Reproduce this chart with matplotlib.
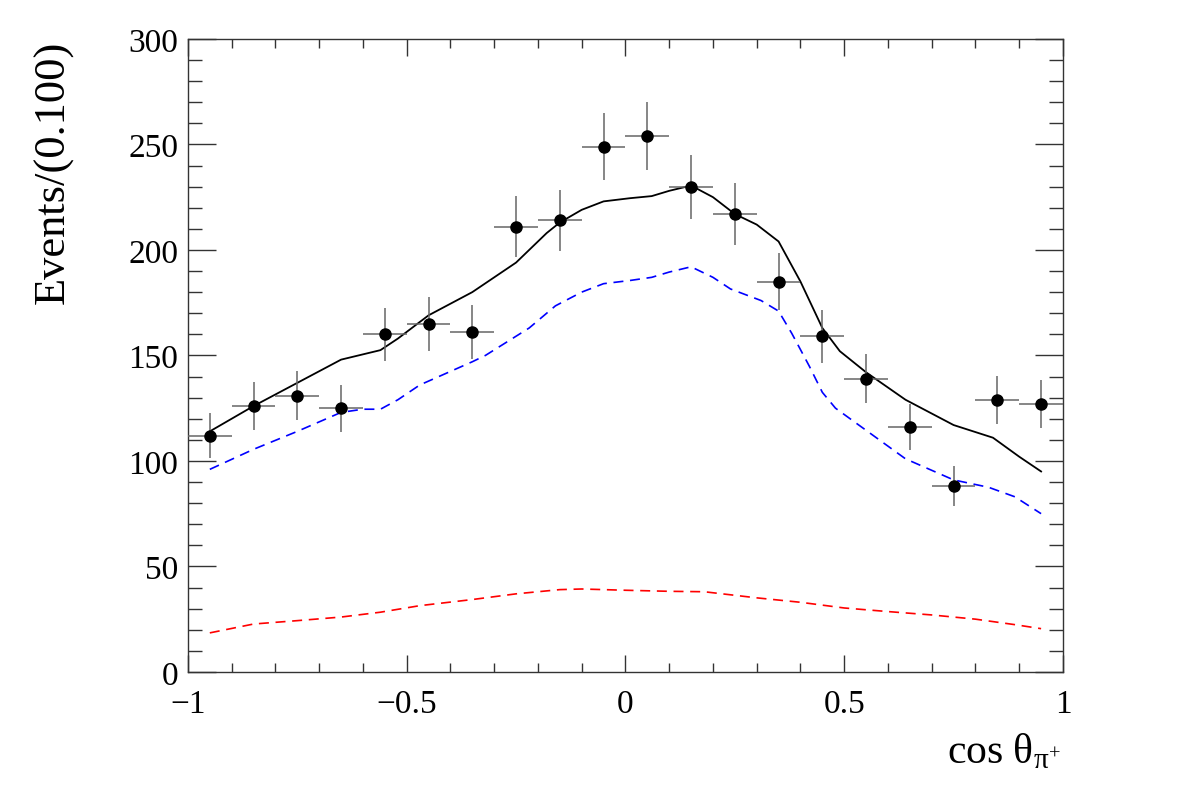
import numpy as np
import matplotlib
matplotlib.use("Agg")
import matplotlib.pyplot as plt
from matplotlib.ticker import MultipleLocator

plt.rcParams['font.family'] = ['Liberation Serif', 'DejaVu Serif']
plt.rcParams['mathtext.fontset'] = 'custom'
plt.rcParams['mathtext.rm'] = 'Liberation Serif'
plt.rcParams['mathtext.it'] = 'Liberation Serif:italic'

# data histogram (bin centres, counts)
bin_centres = [-0.95, -0.85, -0.75, -0.65, -0.55, -0.45, -0.35, -0.25, -0.15, -0.05,
               0.05, 0.15, 0.25, 0.35, 0.45, 0.55, 0.65, 0.75, 0.85, 0.95]
counts = [112, 126, 131, 125, 160, 165, 161, 211, 214, 249,
          254, 230, 217, 185, 159, 139, 116, 88, 129, 127]
bin_half = 0.05

# total fit (black solid)
tot_x = [-0.95, -0.85, -0.75, -0.65, -0.60, -0.56, -0.52, -0.45, -0.35, -0.25, -0.18,
         -0.15, -0.10, -0.05, 0.01, 0.06, 0.10, 0.15, 0.20, 0.25, 0.30, 0.35, 0.40,
         0.45, 0.49, 0.55, 0.64, 0.75, 0.84, 0.90, 0.95]
tot_y = [114, 126, 137, 148, 150.5, 152.5, 158, 169, 180, 194, 208,
         213, 219, 223, 224.5, 225.5, 228, 230.5, 225, 217, 212, 204, 185,
         163, 152, 142, 129, 117, 111, 102, 95]

# signal component (blue dashed)
sig_x = [-0.95, -0.85, -0.75, -0.65, -0.60, -0.56, -0.52, -0.47, -0.35, -0.32, -0.22,
         -0.16, -0.10, -0.05, 0.01, 0.06, 0.10, 0.15, 0.20, 0.24, 0.31, 0.35, 0.38,
         0.42, 0.45, 0.48, 0.55, 0.64, 0.75, 0.83, 0.89, 0.95]
sig_y = [96, 105.5, 114, 123, 124.5, 124.5, 129, 136, 147, 150, 163,
         173.5, 180, 184, 185.5, 187, 189.5, 192, 187, 181.5, 176, 171, 160.5,
         145, 132.5, 125, 114.5, 101, 91, 87.5, 83, 75]

# background component (red dashed)
bkg_x = [-0.95, -0.85, -0.75, -0.65, -0.56, -0.47, -0.35, -0.25, -0.15, -0.10, 0.0,
         0.10, 0.18, 0.30, 0.40, 0.50, 0.60, 0.70, 0.80, 0.89, 0.95]
bkg_y = [18.5, 22.7, 24.3, 26, 28.3, 31.4, 34.3, 37, 39, 39.3, 38.7,
         38.2, 38, 35.1, 33, 30.3, 28.6, 27, 25, 22.4, 20.5]

fig = plt.figure(figsize=(11.82, 8.03), dpi=100)
ax = fig.add_axes([0.159, 0.162, 0.7403, 0.7883])

ax.errorbar(bin_centres, counts, xerr=bin_half, yerr=np.sqrt(counts),
            fmt='o', color='black', ms=8, ecolor='#666666', elinewidth=1.1,
            capsize=0, zorder=5)
ax.plot(tot_x, tot_y, color='black', lw=1.3, zorder=4)
ax.plot(sig_x, sig_y, color='blue', lw=1.2, dashes=(6, 4), zorder=3)
ax.plot(bkg_x, bkg_y, color='red', lw=1.2, dashes=(6, 4), zorder=3)

ax.set_xlim(-1, 1)
ax.set_ylim(0, 300)
ax.xaxis.set_major_locator(MultipleLocator(0.5))
ax.xaxis.set_minor_locator(MultipleLocator(0.1))
ax.yaxis.set_major_locator(MultipleLocator(50))
ax.yaxis.set_minor_locator(MultipleLocator(10))
ax.xaxis.set_major_formatter(plt.FuncFormatter(lambda v, p: ('%g' % v).replace('-', '\u2212')))
ax.yaxis.set_major_formatter(plt.FuncFormatter(lambda v, p: '%d' % v))

ax.tick_params(which='both', direction='in', top=True, right=True,
               color='#333333', width=1.0, labelsize=24)
ax.tick_params(axis='x', which='major', length=12, pad=12)
ax.tick_params(axis='x', which='minor', length=6.5)
ax.tick_params(axis='y', which='major', length=20, pad=7)
ax.tick_params(axis='y', which='minor', length=10)
for s in ax.spines.values():
    s.set_color('#333333')
    s.set_linewidth(1.0)

fig.text(0.045, 0.95, 'Events/(0.100)', rotation=90, ha='center', va='top',
         fontsize=32)
fig.text(0.897, 0.088, r'cos $\mathrm{\theta}_{\mathrm{\pi^{+}}}$', ha='right', va='top',
         fontsize=30)

fig.savefig('out.png', dpi=100)
